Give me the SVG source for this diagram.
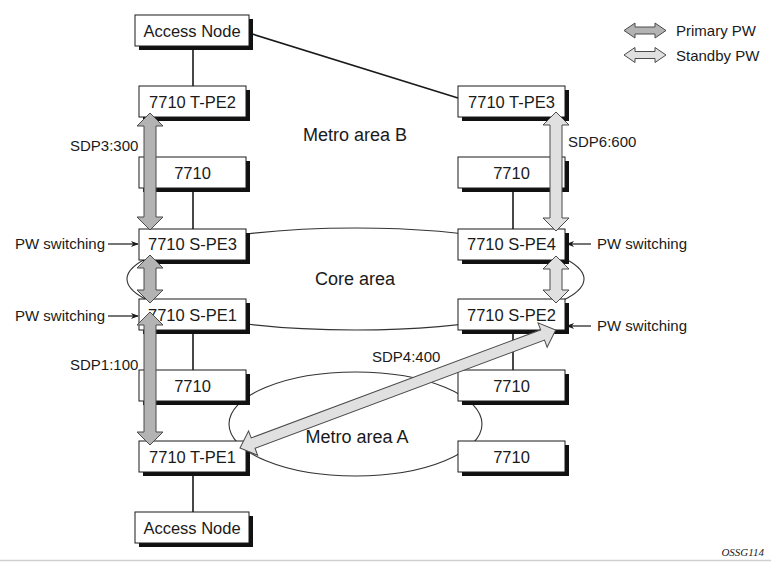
<svg xmlns="http://www.w3.org/2000/svg" width="771" height="562" viewBox="0 0 771 562">
<style>
.bg{fill:#fff}
.box{fill:#fff;stroke:#1a1a1a;stroke-width:1}
.sh{fill:#111}
.lbl{font-family:"Liberation Sans",Arial,sans-serif;font-size:16.5px;fill:#1a1a1a;text-anchor:middle}
.sm{font-family:"Liberation Sans",Arial,sans-serif;font-size:15px;fill:#1a1a1a}
.area{font-family:"Liberation Sans",Arial,sans-serif;font-size:18px;fill:#1a1a1a;text-anchor:middle}
.ln{stroke:#1a1a1a;stroke-width:1.6;fill:none}
.ell{stroke:#333;stroke-width:1.1;fill:none}
.pri{fill:#b3b3b3;stroke:#4a4a4a;stroke-width:1}
.stb{fill:#e0e0e0;stroke:#4a4a4a;stroke-width:1}
.ptr{stroke:#1a1a1a;stroke-width:1.2;fill:none}
</style>
<defs>
<marker id="ah" viewBox="0 0 10 10" refX="9" refY="5" markerWidth="8" markerHeight="8" orient="auto" markerUnits="userSpaceOnUse">
<path d="M0,1 L10,5 L0,9 L3,5 Z" fill="#1a1a1a"/>
</marker>
</defs>
<rect class="bg" x="0" y="0" width="771" height="562"/>
<line x1="0" y1="560.5" x2="771" y2="560.5" stroke="#cfcfcf" stroke-width="1.5"/>

<g id="areas">
<ellipse class="ell" cx="355.5" cy="279" rx="228.5" ry="51"/>
<ellipse class="ell" cx="355.5" cy="424" rx="126.5" ry="52"/>
<text class="area" x="355" y="141">Metro area B</text>
<text class="area" x="355" y="285">Core area</text>
<text class="area" x="357" y="443">Metro area A</text>
</g>

<g id="connectors">
<line class="ln" x1="249" y1="33" x2="458" y2="98"/>
<line class="ln" x1="193" y1="46" x2="193" y2="86"/>
<line class="ln" x1="193" y1="188" x2="193" y2="229"/>
<line class="ln" x1="193" y1="330" x2="193" y2="370"/>
<line class="ln" x1="193" y1="472" x2="193" y2="512"/>
<line class="ln" x1="513" y1="188" x2="513" y2="229"/>
<line class="ln" x1="513" y1="330" x2="513" y2="370"/>
<line class="ptr" x1="108" y1="244" x2="138" y2="244" marker-end="url(#ah)"/>
<line class="ptr" x1="108" y1="316" x2="138" y2="316" marker-end="url(#ah)"/>
<line class="ptr" x1="591" y1="244" x2="567" y2="244" marker-end="url(#ah)"/>
<line class="ptr" x1="591" y1="326" x2="567" y2="326" marker-end="url(#ah)"/>
</g>

<g id="access-node-top">
<rect class="sh" x="139" y="19" width="114" height="31"/>
<rect class="box" x="135" y="15" width="114" height="31"/>
<text class="lbl" x="192" y="37">Access Node</text>
</g>
<g id="t-pe2">
<rect class="sh" x="143" y="90" width="107" height="31"/>
<rect class="box" x="139" y="86" width="107" height="31"/>
<text class="lbl" x="192.5" y="108">7710 T-PE2</text>
</g>
<g id="left-7710-a">
<rect class="sh" x="143" y="161" width="107" height="31"/>
<rect class="box" x="139" y="157" width="107" height="31"/>
<text class="lbl" x="192.5" y="179">7710</text>
</g>
<g id="s-pe3">
<rect class="sh" x="143" y="233" width="107" height="31"/>
<rect class="box" x="139" y="229" width="107" height="31"/>
<text class="lbl" x="192.5" y="250">7710 S-PE3</text>
</g>
<g id="s-pe1">
<rect class="sh" x="143" y="303" width="107" height="31"/>
<rect class="box" x="139" y="299" width="107" height="31"/>
<text class="lbl" x="192.5" y="321">7710 S-PE1</text>
</g>
<g id="left-7710-b">
<rect class="sh" x="143" y="374" width="107" height="31"/>
<rect class="box" x="139" y="370" width="107" height="31"/>
<text class="lbl" x="192.5" y="392">7710</text>
</g>
<g id="t-pe1">
<rect class="sh" x="143" y="445" width="107" height="31"/>
<rect class="box" x="139" y="441" width="107" height="31"/>
<text class="lbl" x="192.5" y="463">7710 T-PE1</text>
</g>
<g id="access-node-bottom">
<rect class="sh" x="139" y="516" width="114" height="31"/>
<rect class="box" x="135" y="512" width="114" height="31"/>
<text class="lbl" x="192" y="534">Access Node</text>
</g>

<g id="t-pe3">
<rect class="sh" x="462" y="90" width="107" height="31"/>
<rect class="box" x="458" y="86" width="107" height="31"/>
<text class="lbl" x="511.5" y="108">7710 T-PE3</text>
</g>
<g id="right-7710-a">
<rect class="sh" x="462" y="161" width="107" height="31"/>
<rect class="box" x="458" y="157" width="107" height="31"/>
<text class="lbl" x="511.5" y="179">7710</text>
</g>
<g id="s-pe4">
<rect class="sh" x="462" y="233" width="107" height="31"/>
<rect class="box" x="458" y="229" width="107" height="31"/>
<text class="lbl" x="511.5" y="250">7710 S-PE4</text>
</g>
<g id="s-pe2">
<rect class="sh" x="462" y="303" width="107" height="31"/>
<rect class="box" x="458" y="299" width="107" height="31"/>
<text class="lbl" x="511.5" y="321">7710 S-PE2</text>
</g>
<g id="right-7710-b">
<rect class="sh" x="462" y="374" width="107" height="31"/>
<rect class="box" x="458" y="370" width="107" height="31"/>
<text class="lbl" x="511.5" y="392">7710</text>
</g>
<g id="right-7710-c">
<rect class="sh" x="462" y="445" width="107" height="31"/>
<rect class="box" x="458" y="441" width="107" height="31"/>
<text class="lbl" x="511.5" y="463">7710</text>
</g>

<g id="pseudowires">
<polygon class="pri" points="150,113 163,126 156,126 156,217 163,217 150,230 137,217 144,217 144,126 137,126"/>
<polygon class="pri" points="150,255 163,268 156,268 156,290 163,290 150,303 137,290 144,290 144,268 137,268"/>
<polygon class="pri" points="150,312 163,325 156,325 156,432 163,432 150,445 137,432 144,432 144,325 137,325"/>
<polygon class="stb" points="556,112 569,125 562,125 562,218 569,218 556,231 543,218 550,218 550,125 543,125"/>
<polygon class="stb" points="556,256 569,269 562,269 562,290 569,290 556,303 543,290 550,290 550,269 543,269"/>
<polygon class="stb" transform="translate(240,448) rotate(-20.48)" points="0,0 14,-13 14,-5.5 323,-5.5 323,-13 337,0 323,13 323,5.5 14,5.5 14,13"/>
</g>

<g id="labels">
<text class="sm" x="70" y="151">SDP3:300</text>
<text class="sm" x="70" y="370">SDP1:100</text>
<text class="sm" x="568" y="147">SDP6:600</text>
<text class="sm" x="372" y="362">SDP4:400</text>
<text class="sm" x="15" y="249">PW switching</text>
<text class="sm" x="15" y="321">PW switching</text>
<text class="sm" x="597" y="249">PW switching</text>
<text class="sm" x="597" y="331">PW switching</text>
</g>

<g id="legend">
<polygon class="pri" points="624,30.5 635,23 635,27 655,27 655,23 666,30.5 655,38 655,34 635,34 635,38"/>
<polygon class="stb" points="624,55 635,47.5 635,51.5 655,51.5 655,47.5 666,55 655,62.5 655,58.5 635,58.5 635,62.5"/>
<text class="sm" x="676" y="36">Primary PW</text>
<text class="sm" x="676" y="61">Standby PW</text>
</g>

<text x="764" y="556" font-family="Liberation Serif,'Times New Roman',serif" font-style="italic" font-size="11" fill="#1a1a1a" text-anchor="end">OSSG114</text>
</svg>
